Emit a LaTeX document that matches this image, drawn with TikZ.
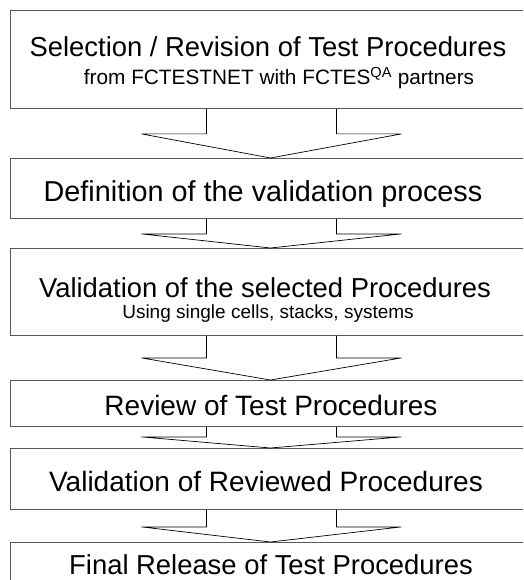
\documentclass[tikz,border=0pt]{standalone}
\usepackage{fontspec}
\setmainfont{Liberation Sans}
\usetikzlibrary{calc}
\begin{document}
\begin{tikzpicture}[x=1pt,y=-1pt]
\tikzset{
  box/.style={draw=black!65, line width=0.9pt, fill=white, rectangle, inner sep=0pt, anchor=north west, minimum width=520pt},
  title/.style={font=\fontsize{27.4}{30}\selectfont, inner sep=0pt, anchor=base},
  sub/.style={font=\fontsize{20.8}{23}\selectfont, inner sep=0pt, anchor=base},
  subs/.style={font=\fontsize{19}{21}\selectfont, inner sep=0pt, anchor=base},
  flow/.style={draw=black, line width=0.7pt}
}
\useasboundingbox (0,0) rectangle (523,580);
\clip (0,0) rectangle (523,580);
\fill[white] (0,0) rectangle (523,580);
% boxes
\node[box, minimum height=98pt] (b1) at (10,10) {};
\node[box, minimum height=60pt] (b2) at (10,158) {};
\node[box, minimum height=87pt] (b3) at (10,248) {};
\node[box, minimum height=46pt] (b4) at (10,380) {};
\node[box, minimum height=61pt] (b5) at (10,448) {};
\node[box, minimum height=70pt] (b6) at (10,542) {};
% texts
\node[title] (t1) at (268,57) {Selection / Revision of Test Procedures};
\node[sub] (s1) at (279,85) {from FCTESTNET with FCTES\textsuperscript{QA} partners};
\node[title, font=\fontsize{28.8}{31}\selectfont] (t2) at (263,201) {Definition of the validation process};
\node[title] (t3) at (265,297) {Validation of the selected Procedures};
\node[subs] (s3) at (268,318) {Using single cells, stacks, systems};
\node[title, font=\fontsize{28}{31}\selectfont] (t4) at (271,415) {Review of Test Procedures};
\node[title, font=\fontsize{28}{31}\selectfont] (t5) at (266,491) {Validation of Reviewed Procedures};
\node[title] (t6) at (271,574) {Final Release of Test Procedures};
% arrows
\newcommand{\flowarrow}[3]{%
  \draw[flow] ($(#1.south)+(-64,0)$) |- ($(#1.south)+(-129,#3)$) -- (#2.north)
     -- ($(#1.south)+(131,#3)$) -| ($(#1.south)+(66,0)$);}
\flowarrow{b1}{b2}{25}
\flowarrow{b2}{b3}{15}
\flowarrow{b3}{b4}{22}
\flowarrow{b4}{b5}{10}
\flowarrow{b5}{b6}{17}
\end{tikzpicture}
\end{document}
